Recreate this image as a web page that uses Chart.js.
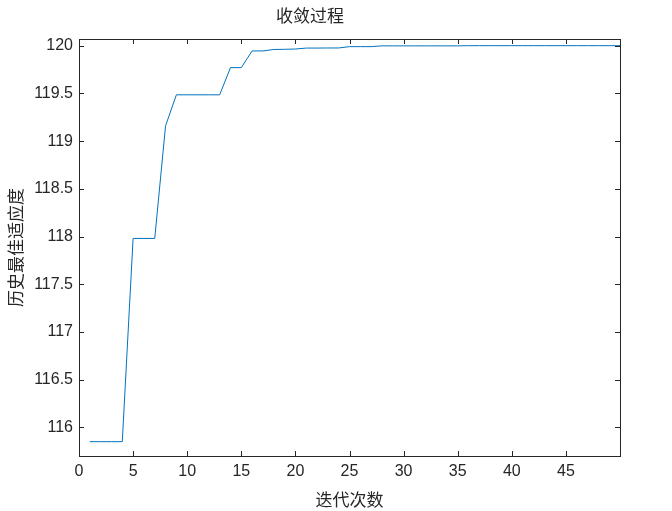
<!DOCTYPE html>
<html>
<head>
<meta charset="utf-8">
<script src="https://cdn.jsdelivr.net/npm/chart.js@4.4.1/dist/chart.umd.min.js"></script>
<style>
  html, body { margin: 0; padding: 0; background: #fff; }
  #wrap { width: 672px; height: 511px; }
</style>
</head>
<body>
<div id="wrap"><canvas id="chart" width="672" height="511"></canvas></div>
<script>
(function () {
  'use strict';

  // iteration number and best fitness so far
  const iterations = [
    1, 2, 3, 4, 5, 6, 7, 8, 9, 10,
    11, 12, 13, 14, 15, 16, 17, 18, 19, 20,
    21, 22, 23, 24, 25, 26, 27, 28, 29, 30,
    31, 32, 33, 34, 35, 36, 37, 38, 39, 40,
    41, 42, 43, 44, 45, 46, 47, 48, 49, 50
  ];
  const bestFitness = [
    115.85, 115.85, 115.85, 115.85, 117.98, 117.98, 117.98, 119.16, 119.485, 119.485,
    119.485, 119.485, 119.485, 119.77, 119.77, 119.945, 119.945, 119.96, 119.962, 119.965,
    119.975, 119.975, 119.976, 119.976, 119.99, 119.99, 119.99, 119.998, 119.998, 119.998,
    119.998, 119.998, 119.998, 119.998, 119.998, 120.0, 120.0, 120.0, 120.0, 120.0,
    120.0, 120.0, 120.0, 120.0, 120.0, 120.0, 120.0, 120.0, 120.0, 120.0
  ];
  const xTicks = [0, 5, 10, 15, 20, 25, 30, 35, 40, 45];
  const yTicks = [116, 116.5, 117, 117.5, 118, 118.5, 119, 119.5, 120];

  const axisColor = '#262626';
  const cjkFont = "'Noto Sans CJK SC', 'Noto Sans', sans-serif";
  const numFont = "'Liberation Sans', Arial, sans-serif";

  // MATLAB style box with inward ticks on all four sides
  const boxPlugin = {
    id: 'matlabBox',
    afterDraw(chart) {
      const ctx = chart.ctx;
      const a = chart.chartArea;
      const xs = chart.scales.x;
      const ys = chart.scales.y;
      const len = 5;
      ctx.save();
      ctx.strokeStyle = axisColor;
      ctx.lineWidth = 1;
      ctx.beginPath();
      xs.ticks.forEach((t) => {
        const px = Math.round(xs.getPixelForValue(t.value)) + 0.5;
        ctx.moveTo(px, a.bottom);
        ctx.lineTo(px, a.bottom - len);
        ctx.moveTo(px, a.top);
        ctx.lineTo(px, a.top + len);
      });
      ys.ticks.forEach((t) => {
        const py = Math.round(ys.getPixelForValue(t.value)) + 0.5;
        ctx.moveTo(a.left, py);
        ctx.lineTo(a.left + len, py);
        ctx.moveTo(a.right, py);
        ctx.lineTo(a.right - len, py);
      });
      ctx.stroke();
      ctx.strokeRect(Math.round(a.left) + 0.5, Math.round(a.top) + 0.5,
        Math.round(a.right - a.left), Math.round(a.bottom - a.top));
      ctx.restore();
    }
  };

  const ctx = document.getElementById('chart').getContext('2d');

  window.convChart = new Chart(ctx, {
    type: 'line',
    data: {
      datasets: [
        {
          data: iterations.map((it, i) => ({ x: it, y: bestFitness[i] })),
          borderColor: '#0072BD',
          borderWidth: 1,
          pointRadius: 0,
          tension: 0,
          fill: false
        }
      ]
    },
    options: {
      responsive: false,
      animation: false,
      layout: { padding: { left: 0, right: 52, top: 0, bottom: 0 } },
      plugins: {
        legend: { display: false },
        tooltip: { enabled: false },
        title: {
          display: true,
          text: '收敛过程',
          color: axisColor,
          font: { family: cjkFont, size: 17, weight: 'normal', lineHeight: 1.2 },
          padding: { top: 5, bottom: 13.6 }
        }
      },
      scales: {
        x: {
          type: 'linear',
          min: 0,
          max: 50,
          grid: { display: false, drawTicks: false },
          border: { display: false },
          afterBuildTicks: (scale) => { scale.ticks = xTicks.map((v) => ({ value: v })); },
          afterFit: (scale) => { scale.height = 55; },
          ticks: {
            color: axisColor,
            font: { family: numFont, size: 16 },
            padding: 6,
            maxRotation: 0,
            autoSkip: false
          },
          title: {
            display: true,
            text: '迭代次数',
            color: axisColor,
            font: { family: cjkFont, size: 17, weight: 'normal' },
            padding: { top: 0, bottom: 1 }
          }
        },
        y: {
          min: 115.7,
          max: 120.07,
          grid: { display: false, drawTicks: false },
          border: { display: false },
          afterBuildTicks: (scale) => { scale.ticks = yTicks.map((v) => ({ value: v })); },
          afterFit: (scale) => { scale.width = 79; },
          ticks: {
            color: axisColor,
            font: { family: numFont, size: 16 },
            padding: 6,
            autoSkip: false,
            callback: (v) => String(v)
          },
          title: {
            display: true,
            text: '历史最佳适应度',
            color: axisColor,
            font: { family: cjkFont, size: 17, weight: 'normal' },
            padding: { top: 5, bottom: 0 }
          }
        }
      }
    },
    plugins: [boxPlugin]
  });
})();
</script>
</body>
</html>
